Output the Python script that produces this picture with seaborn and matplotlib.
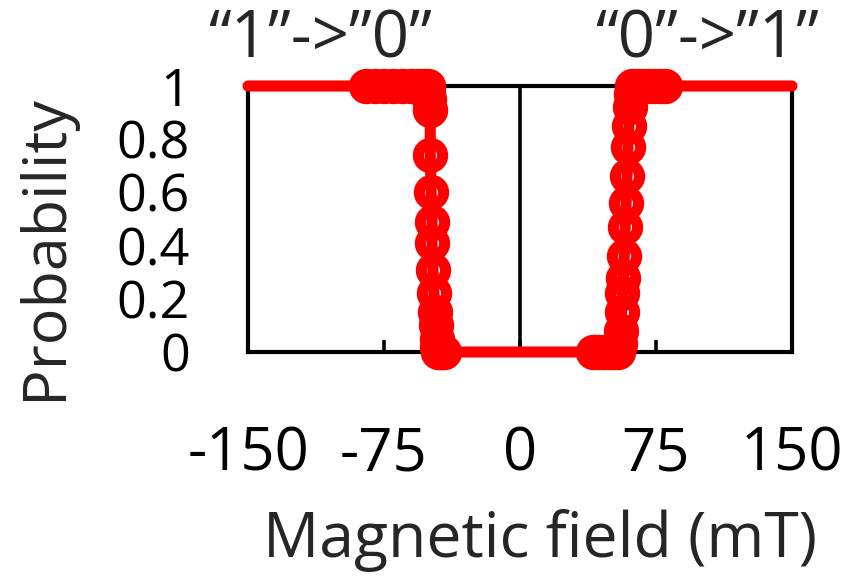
import matplotlib
matplotlib.use("Agg")
import matplotlib.pyplot as plt
import seaborn as sns
import pandas as pd

# Switching sweeps: "1"->"0" (negative field) and "0"->"1" (positive field)
down_field = [-85, -80, -75, -70, -65, -60, -56, -53, -51, -50.5, -50, -49.5,
              -49.5, -49, -48.5, -48.5, -48, -47.5, -47, -46.5, -46, -45.5,
              -45, -44, -43, -42]
down_prob = [1, 1, 1, 1, 1, 1, 1, 1, 1, 0.97, 0.95, 0.91,
             0.74, 0.60, 0.49, 0.41, 0.31, 0.22, 0.15, 0.10, 0.05, 0.02,
             0, 0, 0, 0]

up_field = [40, 43, 46, 49, 52, 54, 55, 55.5, 56, 56.5, 57, 57.5, 58, 58.5,
            59, 59.5, 60, 60.5, 61, 62, 65, 68, 71, 74, 77, 80]
up_prob = [0, 0, 0, 0, 0, 0, 0.03, 0.08, 0.15, 0.22, 0.28, 0.36, 0.47, 0.56,
           0.66, 0.77, 0.85, 0.92, 0.97, 1, 1, 1, 1, 1, 1, 1]

# Field range ends, where the trace is held at its saturated state
start_field, start_prob = -150, 1
end_field, end_prob = 150, 1

x_ticks = [-150, -75, 0, 75, 150]
y_ticks = [0, 0.2, 0.4, 0.6, 0.8, 1]
y_tick_labels = ["0", "0.2", "0.4", "0.6", "0.8", "1"]

sns.set_style("white")
plt.rcParams["font.family"] = ["Open Sans", "DejaVu Sans"]

trace = pd.DataFrame({
    "field": [start_field] + down_field + up_field + [end_field],
    "prob": [start_prob] + down_prob + up_prob + [end_prob],
})
points = pd.DataFrame({
    "field": down_field + up_field,
    "prob": down_prob + up_prob,
})

fig = plt.figure(figsize=(8.5, 5.77), dpi=100)
ax = fig.add_axes([248 / 850, (577 - 352) / 577, (792 - 248) / 850, (352 - 86) / 577])

ax.axvline(0, color="black", lw=2.6, zorder=1)

sns.lineplot(data=trace, x="field", y="prob", sort=False, estimator=None,
             color="red", lw=8, ax=ax, clip_on=False, zorder=3)
sns.lineplot(data=points, x="field", y="prob", sort=False, estimator=None,
             color="red", linestyle="", marker="o", markersize=17.5,
             markeredgewidth=8, markerfacecolor="none", markeredgecolor="red",
             ax=ax, clip_on=False, zorder=4)

ax.set_xlim(-150, 150)
ax.set_ylim(0, 1)
ax.set_xticks(x_ticks)
ax.set_xticklabels([str(v) for v in x_ticks])
ax.set_yticks(y_ticks)
ax.set_yticklabels(y_tick_labels)
ax.set_xlabel("")
ax.set_ylabel("")

for s in ax.spines.values():
    s.set_visible(True)
    s.set_color("black")
    s.set_linewidth(3)

ax.tick_params(axis="x", direction="in", length=9, width=2.6, pad=52,
               labelsize=43, colors="black", top=False, bottom=True)
ax.tick_params(axis="y", length=0, pad=42, labelsize=37.5, colors="black")

fig.text(45 / 850, 1 - 247 / 577, "Probability", rotation=90,
         ha="center", va="center", fontsize=44)
fig.text(540 / 850, 1 - 540 / 577, "Magnetic field (mT)",
         ha="center", va="center", fontsize=45)
fig.text(320 / 850, 1 - 40 / 577, "\u201c1\u201d->\u201d0\u201d",
         ha="center", va="center", fontsize=47)
fig.text(707 / 850, 1 - 40 / 577, "\u201c0\u201d->\u201d1\u201d",
         ha="center", va="center", fontsize=47)

fig.savefig("out.png", dpi=100, facecolor="white")
